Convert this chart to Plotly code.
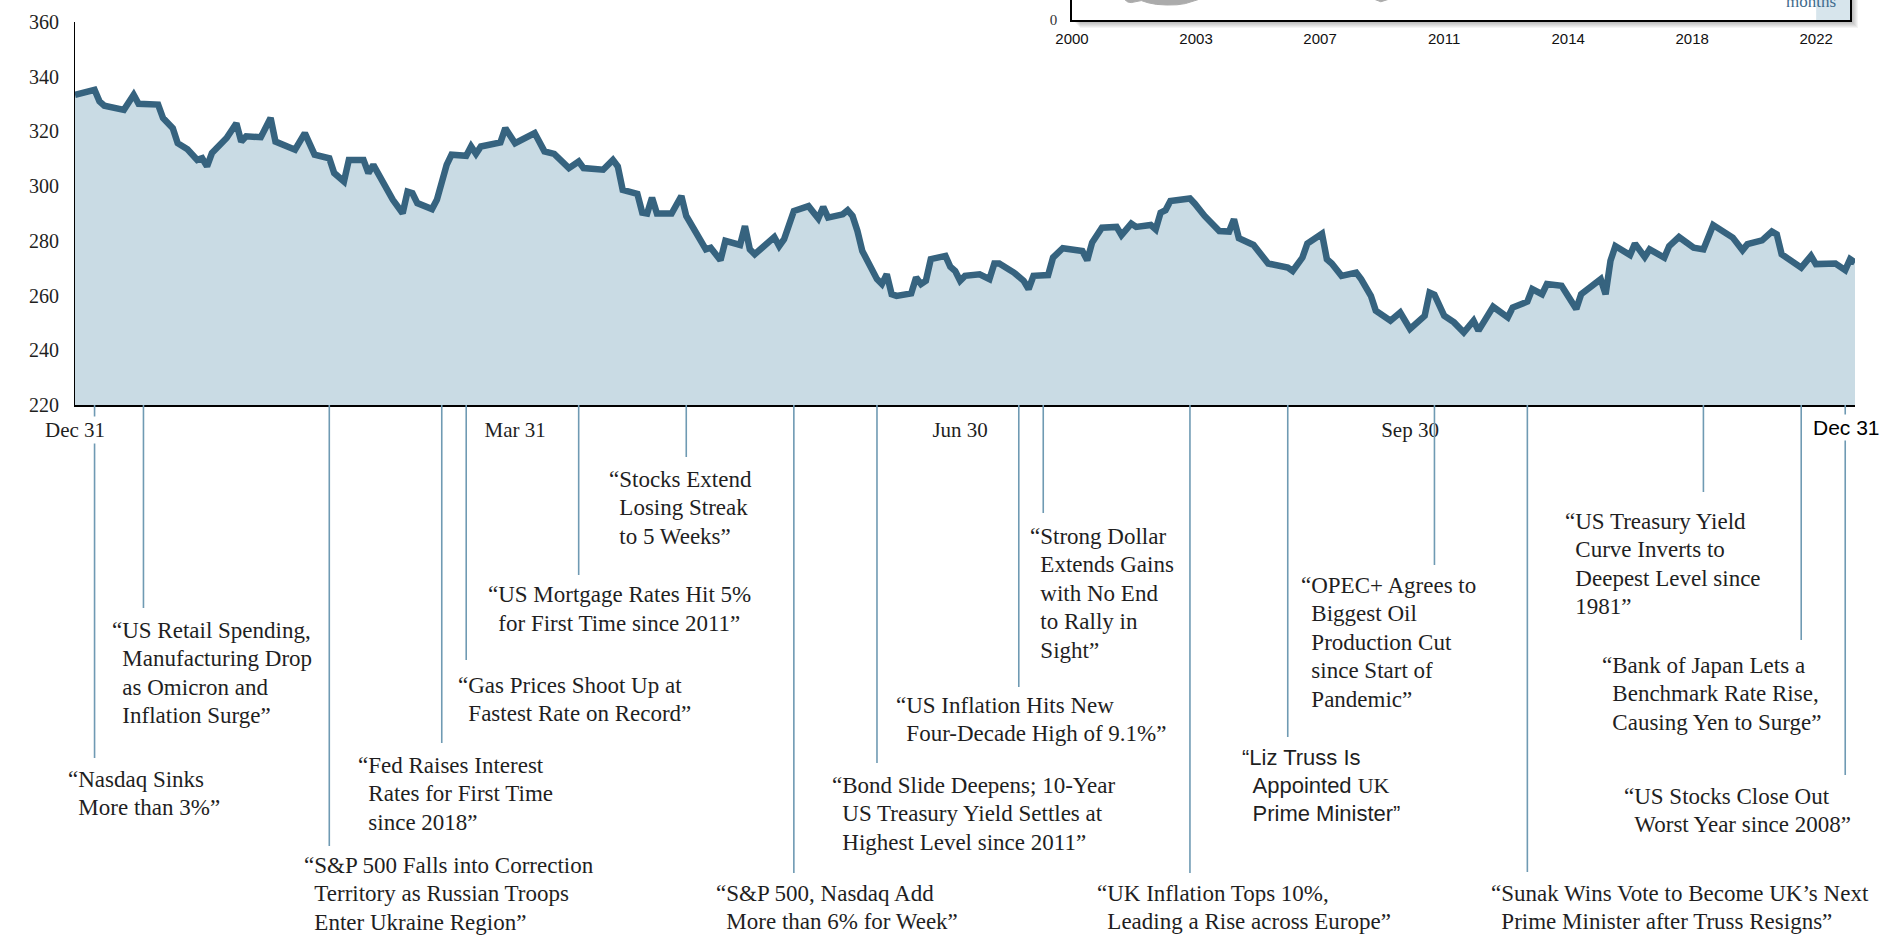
import plotly.graph_objects as go
import pandas as pd

W, H = 1881, 937
START = pd.Timestamp("2021-12-31")

# ---------------- main series (calendar-day offset from 2021-12-31, index level) -------------
DAY_OFFSETS = [
    0, 4, 5, 6, 10, 12, 13, 17, 18, 20,
    21, 23, 25, 26, 27, 28, 31, 33, 34, 35,
    38, 40, 41, 45, 47, 49, 52, 53, 55, 56,
    59, 60, 61, 63, 65, 67, 68, 69, 70, 73,
    74, 76, 77, 80, 81, 82, 83, 87, 88, 90,
    94, 96, 98, 101, 103, 104, 108, 110, 111, 112,
    115, 116, 117, 118, 119, 122, 124, 125, 127, 129,
    130, 132, 133, 136, 137, 138, 139, 143, 144, 145,
    147, 150, 152, 153, 154, 157, 158, 159, 160, 161,
    164, 165, 166, 167, 168, 171, 172, 173, 174, 175,
    178, 179, 180, 181, 182, 185, 187, 188, 189, 192,
    194, 195, 196, 199, 200, 202, 206, 207, 208, 210,
    213, 214, 216, 217, 220, 221, 222, 223, 224, 228,
    229, 231, 234, 236, 237, 238, 241, 244, 248, 249,
    251, 252, 255, 256, 257, 259, 262, 263, 265, 266,
    269, 271, 273, 276, 277, 278, 280, 282, 284, 286,
    287, 290, 293, 294, 297, 298, 300, 301, 304, 307,
    308, 311, 312, 313, 314, 315, 318, 319, 321, 322,
    325, 326, 328, 331, 333, 335, 339, 341, 342, 345,
    347, 348, 349, 353, 355, 356, 360, 362, 363, 364,
]
INDEX_LEVEL = [
    333.4, 335.2, 331.0, 329.4, 327.9, 333.4, 330.1, 329.8, 324.9, 321.2,
    315.7, 313.5, 309.6, 310.2, 307.2, 312.1, 317.6, 323.0, 316.3, 318.2,
    317.9, 324.9, 316.3, 313.3, 319.4, 311.5, 310.2, 304.8, 301.7, 309.6,
    309.6, 304.8, 307.8, 301.1, 295.0, 290.1, 298.0, 297.4, 293.8, 291.6,
    295.0, 307.8, 311.5, 311.1, 314.5, 311.8, 314.5, 316.0, 321.2, 315.7,
    319.4, 312.7, 311.8, 306.6, 309.0, 306.6, 306.0, 309.6, 307.2, 298.6,
    297.2, 290.3, 290.0, 295.8, 290.0, 290.0, 296.4, 289.1, 283.0, 276.9,
    277.5, 272.9, 280.0, 278.5, 285.4, 276.9, 275.1, 281.4, 278.1, 280.6,
    290.9, 292.7, 288.2, 292.4, 288.5, 289.7, 291.2, 289.1, 283.6, 276.3,
    266.0, 264.2, 267.8, 260.5, 259.9, 260.8, 266.6, 264.2, 265.4, 273.3,
    274.5, 270.5, 269.0, 265.4, 267.2, 267.8, 266.0, 271.7, 271.7, 268.4,
    265.4, 262.4, 267.2, 267.5, 273.9, 277.3, 276.3, 272.9, 279.4, 284.8,
    285.1, 282.1, 286.3, 285.1, 285.8, 284.2, 290.3, 291.2, 294.6, 295.5,
    293.6, 289.1, 283.6, 283.4, 287.9, 281.0, 278.5, 271.7, 270.2, 269.0,
    273.9, 279.0, 282.6, 273.3, 271.7, 267.2, 268.4, 266.0, 259.9, 254.5,
    250.8, 253.8, 247.8, 252.6, 261.1, 260.3, 252.6, 250.2, 246.5, 250.8,
    247.2, 255.9, 252.0, 255.6, 257.8, 262.4, 260.5, 264.2, 263.6, 255.1,
    260.5, 264.2, 266.0, 260.5, 272.7, 278.1, 274.8, 279.0, 274.1, 276.9,
    273.9, 278.1, 281.4, 277.5, 276.9, 285.8, 281.2, 276.6, 278.8, 280.2,
    283.4, 282.4, 275.1, 270.2, 274.5, 271.5, 271.7, 269.3, 273.3, 272.1,
]

Y_TICKS = [220, 240, 260, 280, 300, 320, 340, 360]
X_TICK_DATES = ["2022-03-31", "2022-06-30", "2022-09-30"]
X_TICK_TEXT = ["Mar 31", "Jun 30", "Sep 30"]
FIRST_LABEL = "Dec 31"
LAST_LABEL = "Dec 31"

# ---------------- headline events ----------------
EVENT_DATES = [
    "2022-01-04", "2022-01-14", "2022-02-21", "2022-03-16", "2022-03-21",
    "2022-04-13", "2022-05-05", "2022-05-27", "2022-06-13", "2022-07-12",
    "2022-07-17", "2022-08-16", "2022-09-05", "2022-10-05", "2022-10-24",
    "2022-11-29", "2022-12-19", "2022-12-28",
]
EVENT_HEADLINES = [
    ["“Nasdaq Sinks", "More than 3%”"],
    ["“US Retail Spending,", "Manufacturing Drop", "as Omicron and", "Inflation Surge”"],
    ["“S&amp;P 500 Falls into Correction", "Territory as Russian Troops", "Enter Ukraine Region”"],
    ["“Fed Raises Interest", "Rates for First Time", "since 2018”"],
    ["“Gas Prices Shoot Up at", "Fastest Rate on Record”"],
    ["“US Mortgage Rates Hit 5%", "for First Time since 2011”"],
    ["“Stocks Extend", "Losing Streak", "to 5 Weeks”"],
    ["“S&amp;P 500, Nasdaq Add", "More than 6% for Week”"],
    ["“Bond Slide Deepens; 10-Year", "US Treasury Yield Settles at", "Highest Level since 2011”"],
    ["“US Inflation Hits New", "Four-Decade High of 9.1%”"],
    ["“Strong Dollar", "Extends Gains", "with No End", "to Rally in", "Sight”"],
    ["“UK Inflation Tops 10%,", "Leading a Rise across Europe”"],
    ["“Liz Truss Is", "Appointed <span style=\"font-family:Liberation Serif\">UK</span>", "Prime Minister”"],
    ["“OPEC+ Agrees to", "Biggest Oil", "Production Cut", "since Start of", "Pandemic”"],
    ["“Sunak Wins Vote to Become UK’s Next", "Prime Minister after Truss Resigns”"],
    ["“US Treasury Yield", "Curve Inverts to", "Deepest Level since", "1981”"],
    ["“Bank of Japan Lets a", "Benchmark Rate Rise,", "Causing Yen to Surge”"],
    ["“US Stocks Close Out", "Worst Year since 2008”"],
]

# ---------------- inset (long-run series, only its lowest part is visible) ----------------
INSET_TICK_POS = [2000, 2003.667, 2007.333, 2011, 2014.667, 2018.333, 2022]
INSET_TICK_TEXT = ["2000", "2003", "2007", "2011", "2014", "2018", "2022"]
INSET_DIP1_YEAR = [2001.55, 2001.65, 2001.75, 2001.9, 2002.05, 2002.25, 2002.5, 2002.8, 2003.1, 2003.35, 2003.6, 2003.75]
INSET_DIP1_LOW = [10.3, 9.0, 8.7, 9.2, 9.7, 8.6, 7.8, 7.5, 7.6, 8.2, 9.3, 10.3]
INSET_DIP2_YEAR = [2008.95, 2009.13, 2009.35]
INSET_DIP2_LOW = [10.3, 9.1, 10.3]
INSET_LABEL = "months"

# ---------------- layout positions (pixels) ----------------
def px(x):
    return x / W


def py(y):
    return (H - y) / H


PLOT_L, PLOT_R, PLOT_T, PLOT_B = 75, 1855, 22, 405
INSET_L, INSET_R, INSET_B = 1072, 1850, 20
LINE_END_Y = [758, 608, 846, 743, 660, 575, 457, 873, 763, 687, 513, 873, 737, 565, 872, 492, 640, 775]
TEXT_POS = [  # left edge and centre of first line
    (66, 779), (110, 630), (302, 865), (356, 765), (456, 685), (486, 595),
    (607, 479), (714, 893), (830, 785), (894, 705), (1028, 536), (1095, 893),
    (1240, 757), (1299, 585), (1489, 893), (1563, 521), (1600, 665), (1622, 796),
]
SERIF = "Liberation Serif"
SANS = "Liberation Sans"
TEXT_CLR = "#1f1f1f"
LINE_CLR = "#6f9ab3"
INDENT = "\u00a0\u2009"
SERIF_SIZE, SANS_SIZE = 23, 22
SERIF_LEAD, SANS_LEAD = 28.6, 28.0

fig = go.Figure()

dates = [START + pd.Timedelta(days=d) for d in DAY_OFFSETS]
fig.add_trace(go.Scatter(
    x=dates, y=INDEX_LEVEL, mode="lines", fill="tozeroy",
    fillcolor="#c9dbe4", line=dict(color="#36637f", width=6.5),
    hoverinfo="skip", xaxis="x", yaxis="y",
))

# inset series (gray band, mostly above the visible slice)
for yrs, lows in [(INSET_DIP1_YEAR, INSET_DIP1_LOW), (INSET_DIP2_YEAR, INSET_DIP2_LOW)]:
    fig.add_trace(go.Scatter(
        x=yrs + yrs[::-1], y=lows + [12] * len(yrs), mode="lines", fill="toself",
        fillcolor="#ababab", line=dict(color="#ababab", width=1),
        hoverinfo="skip", xaxis="x2", yaxis="y2",
    ))

shapes = []
# inset drop shadow
for k in range(1, 9):
    a = 0.045
    shapes.append(dict(type="rect", xref="paper", yref="paper", layer="below",
                       x0=px(INSET_L + k), x1=px(INSET_R + k), y0=py(INSET_B + k), y1=py(INSET_B),
                       fillcolor=f"rgba(0,0,0,{a})", line=dict(width=0)))
    shapes.append(dict(type="rect", xref="paper", yref="paper", layer="below",
                       x0=px(INSET_R), x1=px(INSET_R + k), y0=py(INSET_B), y1=1,
                       fillcolor=f"rgba(0,0,0,{a})", line=dict(width=0)))
# last-12-months shading in inset
shapes.append(dict(type="rect", xref="x2", yref="paper", layer="below",
                   x0=2022, x1=2023, y0=py(INSET_B), y1=1,
                   fillcolor="#d7e5ec", line=dict(width=0)))

annotations = []
for date, lines, yend, (tx, ty) in zip(EVENT_DATES, EVENT_HEADLINES, LINE_END_Y, TEXT_POS):
    shapes.append(dict(type="line", xref="x", yref="paper", layer="above",
                       x0=date, x1=date, y0=py(PLOT_B), y1=py(yend),
                       line=dict(color=LINE_CLR, width=1.6)))
    is_sans = lines[0].startswith("“Liz")
    size = SANS_SIZE if is_sans else SERIF_SIZE
    lead = SANS_LEAD if is_sans else SERIF_LEAD
    for i, line in enumerate(lines):
        annotations.append(dict(
            xref="paper", yref="paper", x=px(tx), y=py(ty + i * lead),
            xanchor="left", yanchor="middle", align="left", showarrow=False,
            text=(INDENT + line) if i else line,
            font=dict(family=SANS if is_sans else SERIF, size=size, color=TEXT_CLR),
        ))

annotations.append(dict(xref="x", yref="paper", x=START, y=py(430), xanchor="center", yanchor="middle",
                        text=FIRST_LABEL, showarrow=False, bgcolor="white",
                        font=dict(family=SERIF, size=21, color=TEXT_CLR)))
annotations.append(dict(xref="paper", yref="paper", x=px(1811), y=py(428), xanchor="left", yanchor="middle",
                        text=LAST_LABEL, showarrow=False, bgcolor="white",
                        font=dict(family=SANS, size=21, color="#000000")))
annotations.append(dict(xref="paper", yref="paper", x=px(1838), y=py(13), xanchor="right", yanchor="bottom",
                        text=INSET_LABEL, showarrow=False,
                        font=dict(family=SERIF, size=17, color="#3e6b8c")))

fig.update_layout(
    width=W, height=H,
    margin=dict(l=0, r=0, t=0, b=0, autoexpand=False),
    paper_bgcolor="white", plot_bgcolor="rgba(0,0,0,0)",
    showlegend=False,
    shapes=shapes, annotations=annotations,
    xaxis=dict(domain=[px(PLOT_L), px(PLOT_R)], anchor="y", type="date",
               range=[START, START + pd.Timedelta(days=364)],
               tickvals=X_TICK_DATES, ticktext=X_TICK_TEXT, ticks="",
               ticklabelstandoff=5,
               tickfont=dict(family=SERIF, size=21, color=TEXT_CLR),
               showline=True, linecolor="black", linewidth=1.5,
               showgrid=False, zeroline=False),
    yaxis=dict(domain=[py(PLOT_B), py(PLOT_T)], anchor="x", range=[220, 360],
               tickvals=Y_TICKS, ticks="", ticklabelstandoff=11,
               tickfont=dict(family=SERIF, size=20, color=TEXT_CLR),
               showline=True, linecolor="black", linewidth=1.2,
               showgrid=False, zeroline=False),
    xaxis2=dict(domain=[px(INSET_L), px(INSET_R)], anchor="y2", range=[2000, 2023],
                tickvals=INSET_TICK_POS, ticktext=INSET_TICK_TEXT, ticks="",
                ticklabelstandoff=4,
                tickfont=dict(family=SANS, size=15, color="#111111"),
                showline=True, linecolor="black", linewidth=1.5,
                showgrid=False, zeroline=False),
    yaxis2=dict(domain=[py(INSET_B), 1], anchor="x2", range=[0, 10],
                tickvals=[0], ticktext=["0"], ticks="", ticklabelstandoff=10,
                tickfont=dict(family=SERIF, size=15, color="#333333"),
                showline=True, mirror=True, linecolor="black", linewidth=1.5,
                showgrid=False, zeroline=False),
)

fig.write_html(
    "out.html",
    config={"displayModeBar": False},
    post_script="document.body.style.margin='0';document.body.style.overflow='hidden';",
)
